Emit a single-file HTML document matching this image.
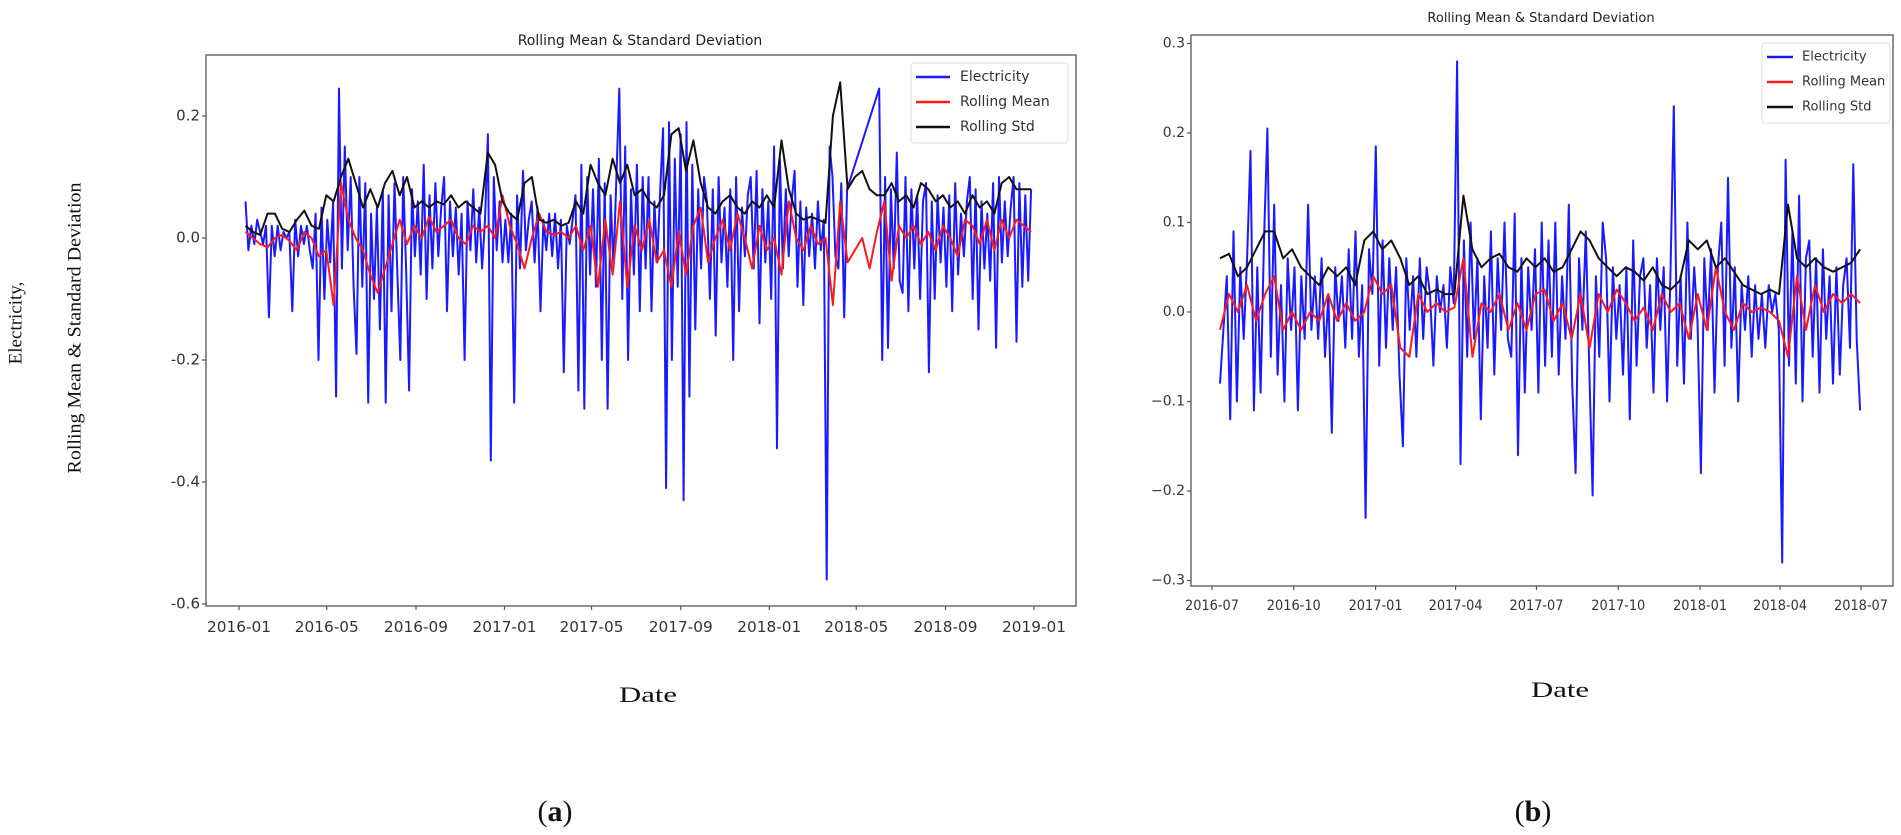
<!DOCTYPE html>
<html><head><meta charset="utf-8"><style>
html,body{margin:0;padding:0;background:#fff;}
svg{display:block;font-family:"DejaVu Sans","Liberation Sans",sans-serif;}
</style></head>
<body>
<svg id="fig" width="1901" height="835" viewBox="0 0 1901 835" xmlns="http://www.w3.org/2000/svg">
<rect x="0" y="0" width="1901" height="835" fill="#fff"/>
<text x="17" y="323" transform="rotate(-90 17 323)" text-anchor="middle" dominant-baseline="middle" font-family="Liberation Serif, serif" font-size="19" fill="#111">Electricity,</text>
<text x="76" y="328" transform="rotate(-90 76 328)" text-anchor="middle" dominant-baseline="middle" font-family="Liberation Serif, serif" font-size="19" textLength="291" lengthAdjust="spacingAndGlyphs" fill="#111">Rolling Mean &amp; Standard Deviation</text>
<text x="648" y="702" text-anchor="middle" font-family="Liberation Serif, serif" font-size="22" textLength="58" lengthAdjust="spacingAndGlyphs" fill="#111">Date</text>
<text x="1560" y="697" text-anchor="middle" font-family="Liberation Serif, serif" font-size="22" textLength="58" lengthAdjust="spacingAndGlyphs" fill="#111">Date</text>
<text x="555" y="821" text-anchor="middle" font-family="Liberation Serif, serif" font-size="30" fill="#111">(<tspan font-weight="bold">a</tspan>)</text>
<text x="1533" y="821" text-anchor="middle" font-family="Liberation Serif, serif" font-size="30" fill="#111">(<tspan font-weight="bold">b</tspan>)</text>
<g id="chartA"></g>
<g id="chartB"></g>
</svg>
<script>
// ---------- Chart A data ----------
const aStart = "2016-01-10", aEnd = "2018-12-28";
const aElectricity = [
0.06,-0.02,0.02,-0.01,0.03,0.01,-0.01,0.02,
-0.13,0.02,-0.03,0.02,-0.02,0.01,0.0,
0.01,-0.12,0.03,-0.03,0.02,-0.01,0.02,-0.02,
-0.05,0.04,-0.2,0.05,-0.1,0.03,-0.04,
0.06,-0.26,0.245,-0.05,0.15,-0.02,0.1,-0.08,
-0.19,0.1,-0.08,0.09,-0.27,0.04,-0.1,
0.05,-0.15,0.08,-0.27,0.07,-0.12,0.09,-0.06,
-0.2,0.1,-0.05,-0.25,0.08,-0.03,0.06,
-0.06,0.12,-0.1,0.07,-0.05,0.09,-0.03,0.05,
0.1,-0.12,0.06,-0.03,0.05,-0.06,0.04,
-0.2,0.06,-0.02,0.08,-0.04,0.05,-0.05,0.03,
0.17,-0.365,0.1,-0.02,0.06,-0.04,0.03,
-0.04,0.04,-0.27,0.07,-0.05,0.11,-0.02,0.03,
0.06,-0.04,0.05,-0.12,0.03,-0.02,0.04,
-0.03,0.04,-0.05,0.03,-0.22,0.02,-0.01,0.03,
0.07,-0.25,0.12,-0.28,0.1,-0.06,0.08,
-0.08,0.13,-0.2,0.09,-0.28,0.07,-0.05,0.1,
0.245,-0.1,0.15,-0.2,0.08,-0.06,0.12,
-0.12,0.1,-0.05,0.1,-0.12,0.06,-0.04,0.08,
0.18,-0.41,0.19,-0.2,0.13,-0.08,0.17,
-0.43,0.19,-0.26,0.12,-0.15,0.08,-0.05,0.1,
0.06,-0.1,0.08,-0.16,0.1,-0.04,0.05,
-0.08,0.08,-0.2,0.1,-0.12,0.05,-0.03,0.07,
0.1,-0.05,0.11,-0.14,0.08,-0.04,0.06,
-0.1,0.15,-0.345,0.13,-0.05,0.08,-0.03,0.06,
0.11,-0.08,0.06,-0.11,0.05,-0.03,0.04,
-0.05,0.06,-0.02,0.03,-0.56,0.15,0.1,-0.03,
-0.05,0.09,-0.13,0.08,null,null,null,
null,null,null,null,null,null,null,0.245,
-0.2,0.1,-0.18,0.08,-0.05,0.14,-0.07,
-0.09,0.1,-0.12,0.08,-0.05,0.07,-0.1,0.06,
0.09,-0.22,0.06,-0.1,0.07,-0.04,0.05,
-0.08,0.07,-0.12,0.09,-0.06,0.04,-0.03,0.06,
0.1,-0.1,0.08,-0.15,0.06,-0.05,0.04,
-0.07,0.09,-0.18,0.1,-0.04,0.06,-0.03,0.05,
0.1,-0.17,0.09,-0.08,0.07,-0.07,0.08
];
const aRollingMean = [
0.01,0.0,-0.01, -0.015,0.0,0.005, -0.005,-0.02,0.01, 0.0,-0.03,-0.02,
-0.11,0.09,0.03, 0.0,-0.02,-0.06, -0.09,-0.05,-0.01, 0.03,-0.01,0.02,
0.0,0.035,0.01, 0.02,0.03,0.0, -0.01,0.02,0.01, 0.02,0.0,0.07,
0.02,-0.01,-0.05, 0.0,0.04,0.01, 0.005,0.01,0.0, 0.02,-0.02,0.02,
-0.08,0.03,-0.06, 0.06,-0.08,0.02, -0.02,0.03,-0.04, -0.02,-0.08,0.01,
-0.06,0.02,0.05, -0.04,0.0,0.03, -0.02,0.04,0.0, -0.05,0.02,-0.02,
0.0,-0.06,0.06, 0.0,-0.02,0.02, -0.01,0.0,-0.11, 0.06,-0.04,-0.02,
0.0,-0.05,0.01, 0.06,-0.07,0.02, 0.0,0.02,-0.01, 0.01,-0.02,0.02,
0.0,-0.03,0.03, 0.02,-0.01,0.03, -0.02,0.03,0.0, 0.03,0.02,0.01
];
const aRollingStd = [
0.02,0.01,0.005, 0.04,0.04,0.015, 0.01,0.03,0.045, 0.02,0.015,0.07,
0.06,0.1,0.13, 0.09,0.05,0.08, 0.05,0.09,0.11, 0.07,0.1,0.05,
0.06,0.05,0.06, 0.055,0.07,0.05, 0.06,0.05,0.04, 0.14,0.12,0.06,
0.04,0.03,0.09, 0.1,0.03,0.025, 0.03,0.02,0.025, 0.06,0.04,0.12,
0.09,0.07,0.13, 0.09,0.12,0.07, 0.08,0.06,0.05, 0.07,0.17,0.18,
0.11,0.16,0.09, 0.05,0.04,0.06, 0.07,0.05,0.04, 0.06,0.05,0.07,
0.05,0.16,0.08, 0.04,0.03,0.035, 0.03,0.025,0.2, 0.255,0.08,0.1,
0.11,0.08,0.07, 0.07,0.09,0.06, 0.07,0.05,0.09, 0.08,0.06,0.07,
0.05,0.06,0.04, 0.07,0.05,0.06, 0.04,0.09,0.1, 0.08,0.08,0.08
];
const aYTicks = [0.2, 0.0, -0.2, -0.4, -0.6];
const aYTickLabels = ["0.2", "0.0", "-0.2", "-0.4", "-0.6"];
const aXTicks = ["2016-01-01","2016-05-01","2016-09-01","2017-01-01","2017-05-01","2017-09-01","2018-01-01","2018-05-01","2018-09-01","2019-01-01"];
const aXTickLabels = ["2016-01","2016-05","2016-09","2017-01","2017-05","2017-09","2018-01","2018-05","2018-09","2019-01"];

// ---------- Chart B data ----------
const bStart = "2016-07-10", bEnd = "2018-06-30";
const bElectricity = [
-0.08,-0.02,0.04,-0.12,0.09,-0.1,
0.05,-0.03,0.06,0.18,-0.11,0.05,-0.09,0.08,
0.205,-0.05,0.12,-0.07,0.03,-0.1,0.06,-0.02,
0.05,-0.11,0.04,-0.03,0.12,-0.02,0.04,-0.03,
0.06,-0.05,0.02,-0.135,0.05,-0.01,0.04,-0.04,
0.07,-0.03,0.09,-0.05,0.03,-0.23,0.07,0.02,
0.185,-0.06,0.08,-0.04,0.06,-0.02,0.05,-0.07,
-0.15,0.06,-0.02,0.04,-0.05,0.06,-0.03,0.05,
0.02,-0.06,0.04,0.0,0.03,-0.04,0.05,0.01,
0.28,-0.17,0.08,-0.05,0.1,-0.03,0.06,-0.12,
0.04,-0.04,0.09,-0.07,0.06,-0.02,0.1,-0.03,
-0.05,0.11,-0.16,0.06,-0.09,0.05,-0.02,0.07,
-0.09,0.1,-0.06,0.08,-0.05,0.1,-0.07,0.04,
-0.03,0.12,-0.08,-0.18,0.06,-0.02,0.09,-0.06,
-0.205,0.04,-0.05,0.1,0.06,-0.1,0.05,-0.03,
0.03,-0.07,0.05,-0.12,0.08,-0.06,0.04,0.06,
-0.04,0.03,-0.09,0.06,-0.02,0.05,-0.1,0.04,
0.23,-0.06,0.04,-0.08,0.1,-0.03,0.05,-0.01,
-0.18,0.06,-0.02,0.07,-0.09,0.05,0.1,-0.06,
0.15,-0.04,0.05,-0.1,0.03,-0.02,0.04,-0.05,
0.03,-0.03,0.02,-0.04,0.03,0.0,0.02,-0.02,
-0.28,0.17,-0.06,0.09,-0.08,0.13,-0.1,0.06,
0.08,-0.05,0.06,-0.09,0.07,-0.03,0.04,-0.08,
0.05,-0.07,0.03,0.06,-0.04,0.165,-0.03,-0.11
];
const bRollingMean = [
-0.02,0.02,0.0, 0.03,-0.01,0.02, 0.04,-0.02,0.0, -0.02,0.0,-0.01,
0.02,-0.01,0.01, -0.01,0.0,0.04, 0.02,0.03,-0.04, -0.05,0.02,0.0,
0.01,0.0,0.005, 0.06,-0.05,0.01, 0.0,0.02,-0.02, 0.01,-0.02,0.02,
0.025,-0.01,0.01, -0.03,0.02,-0.04, 0.02,0.0,0.025, 0.01,-0.01,0.005,
-0.02,0.02,0.0, 0.01,-0.03,0.02, -0.02,0.05,0.0, -0.02,0.01,0.0,
0.005,0.0,-0.01, -0.05,0.04,-0.02, 0.03,0.0,0.02, 0.01,0.02,0.01
];
const bRollingStd = [
0.06,0.065,0.04, 0.05,0.07,0.09, 0.09,0.06,0.07, 0.05,0.04,0.03,
0.05,0.04,0.05, 0.03,0.08,0.09, 0.07,0.08,0.06, 0.03,0.04,0.02,
0.025,0.02,0.02, 0.13,0.07,0.05, 0.06,0.065,0.05, 0.045,0.06,0.05,
0.06,0.045,0.05, 0.07,0.09,0.08, 0.06,0.05,0.04, 0.05,0.045,0.035,
0.05,0.03,0.025, 0.035,0.08,0.07, 0.08,0.05,0.06, 0.045,0.03,0.025,
0.02,0.025,0.02, 0.12,0.06,0.05, 0.06,0.05,0.045, 0.05,0.055,0.07
];
const bYTicks = [0.3, 0.2, 0.1, 0.0, -0.1, -0.2, -0.3];
const bYTickLabels = ["0.3","0.2","0.1","0.0","\u22120.1","\u22120.2","\u22120.3"];
const bXTicks = ["2016-07-01","2016-10-01","2017-01-01","2017-04-01","2017-07-01","2017-10-01","2018-01-01","2018-04-01","2018-07-01"];
const bXTickLabels = ["2016-07","2016-10","2017-01","2017-04","2017-07","2017-10","2018-01","2018-04","2018-07"];

const NS = "http://www.w3.org/2000/svg";
function mk(tag, attrs, parent){const e=document.createElementNS(NS,tag);for(const k in attrs)e.setAttribute(k,attrs[k]);parent.appendChild(e);return e;}
function day(s){return Date.parse(s+"T00:00:00Z")/86400000;}

function drawChart(g, cfg){
  const xScale = d => cfg.px0 + (d - day(cfg.d0)) / (day(cfg.d1) - day(cfg.d0)) * (cfg.px1 - cfg.px0);
  const yScale = v => cfg.py0 - (v - cfg.v0) * cfg.pxPerUnit;
  const t = mk("text",{x:cfg.titleX,y:cfg.titleY,"text-anchor":"middle","font-size":cfg.titleSize,fill:"#222"},g);
  t.textContent = "Rolling Mean & Standard Deviation";
  
  
  const s0 = day(cfg.start), s1 = day(cfg.end);
  function series(vals, color, w, name){
    const step = (s1 - s0) / (vals.length - 1);
    let d = "", first = true;
    vals.forEach((v,i)=>{ if(v===null) return; const x=xScale(s0+i*step), y=yScale(v); d += (first?"M":"L")+x.toFixed(1)+","+y.toFixed(1); first=false; });
    const p = mk("path",{d:d,fill:"none",stroke:color,"stroke-width":w,"stroke-linejoin":"round"},g);
    
    
  }
  series(cfg.blue, "#1a1aff", 2.0, "electricity-line");
  series(cfg.red, "#ff1a1a", 2.0, "rolling-mean-line");
  series(cfg.black, "#111", 2.0, "rolling-std-line");
  const fr = mk("rect",{x:cfg.left,y:cfg.top,width:cfg.right-cfg.left,height:cfg.bottom-cfg.top,fill:"none",stroke:"#555","stroke-width":1.3},g);
  
  
  cfg.yTicks.forEach((v,i)=>{
    const y = yScale(v);
    const tk = mk("line",{x1:cfg.left-4,x2:cfg.left,y1:y,y2:y,stroke:"#555","stroke-width":1.2},g);
    
    
    const lb = mk("text",{x:cfg.left-6,y:y,"text-anchor":"end","dominant-baseline":"middle","font-size":cfg.tickSize,fill:"#333"},g);
    lb.textContent = cfg.yLabels[i];
    
    
  });
  cfg.xTicks.forEach((s,i)=>{
    const x = xScale(day(s));
    const tk = mk("line",{x1:x,x2:x,y1:cfg.bottom,y2:cfg.bottom+4,stroke:"#555","stroke-width":1.2},g);
    
    
    const lb = mk("text",{x:x,y:cfg.xLabelY,"text-anchor":"middle","font-size":cfg.tickSize,fill:"#333",textLength:cfg.xLabelW,lengthAdjust:"spacingAndGlyphs"},g);
    lb.textContent = cfg.xLabels[i];
    
    
  });
  const L = cfg.legend;
  const lg = mk("g",{},g);
  
  
  mk("rect",{x:L.x,y:L.y,width:L.w,height:L.h,rx:3,fill:"#fff","fill-opacity":0.85,stroke:"#ddd","stroke-width":1},lg);
  [["Electricity","#1a1aff"],["Rolling Mean","#ff1a1a"],["Rolling Std","#111"]].forEach((e,i)=>{
    const y = L.rowY[i];
    const it = mk("g",{},lg);
    
    
    mk("line",{x1:L.lx0,x2:L.lx1,y1:y,y2:y,stroke:e[1],"stroke-width":2.5},it);
    const tx = mk("text",{x:L.tx,y:y,"dominant-baseline":"middle","font-size":L.fs,fill:"#333"},it);
    tx.textContent = e[0];
  });
}

drawChart(document.getElementById("chartA"), {
  left:206,right:1076,top:55,bottom:606,
  px0:239,px1:1034,d0:"2016-01-01",d1:"2019-01-01",
  py0:238,v0:0,pxPerUnit:610,
  start:aStart,end:aEnd,blue:aElectricity,red:aRollingMean,black:aRollingStd,
  yTicks:aYTicks,yLabels:aYTickLabels,xTicks:aXTicks,xLabels:aXTickLabels,
  titleX:640,titleY:45,titleSize:14,tickSize:15,xLabelY:632,xLabelW:64,
  legend:{x:911,y:63,w:157,h:80,rowY:[77,102,127],lx0:916,lx1:950,tx:960,fs:14}
});
drawChart(document.getElementById("chartB"), {
  left:1191,right:1893,top:35,bottom:586,
  px0:1212,px1:1861,d0:"2016-07-01",d1:"2018-07-01",
  py0:312,v0:0,pxPerUnit:895,
  start:bStart,end:bEnd,blue:bElectricity,red:bRollingMean,black:bRollingStd,
  yTicks:bYTicks,yLabels:bYTickLabels,xTicks:bXTicks,xLabels:bXTickLabels,
  titleX:1541,titleY:22,titleSize:13,tickSize:14,xLabelY:610,xLabelW:54,
  legend:{x:1762,y:43,w:128,h:80,rowY:[57,82,107],lx0:1767,lx1:1793,tx:1802,fs:13}
});
</script>
</body></html>
